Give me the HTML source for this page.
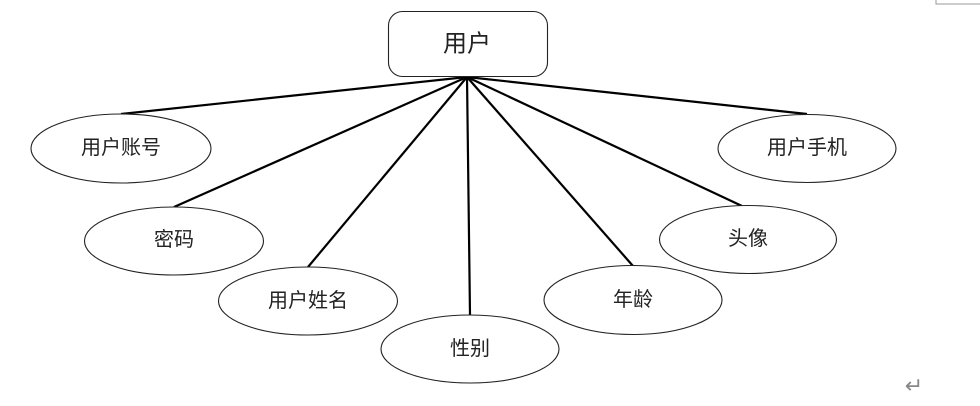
<!DOCTYPE html>
<html><head><meta charset="utf-8"><style>
body{margin:0;background:#fff;}
svg text{font-family:"Liberation Sans","Noto Sans CJK SC",sans-serif;fill:#222;}
</style></head><body>
<svg width="980" height="401" viewBox="0 0 980 401" xmlns="http://www.w3.org/2000/svg">
<path d="M936 0 V4 H980" fill="none" stroke="#999" stroke-width="1"/>
<g stroke="#000" stroke-width="2.2" fill="none">
<line x1="467" y1="77" x2="121" y2="114"/>
<line x1="467" y1="77" x2="174" y2="207"/>
<line x1="467" y1="77" x2="308" y2="267"/>
<line x1="467" y1="77" x2="470" y2="315"/>
<line x1="467" y1="77" x2="633" y2="266"/>
<line x1="467" y1="77" x2="742" y2="206"/>
<line x1="467" y1="77" x2="807" y2="114"/>
</g>
<g stroke="#222" stroke-width="1.1" fill="#fff">
<rect x="388.5" y="11.5" width="159" height="65" rx="14"/>
<ellipse cx="121" cy="148.5" rx="90" ry="34.5"/>
<ellipse cx="174" cy="241" rx="89.5" ry="34"/>
<ellipse cx="308" cy="301" rx="89.5" ry="34"/>
<ellipse cx="470" cy="349" rx="89" ry="34"/>
<ellipse cx="633" cy="300" rx="89" ry="34.5"/>
<ellipse cx="748" cy="239.5" rx="88.5" ry="34"/>
<ellipse cx="807" cy="148.5" rx="89" ry="34"/>
</g>
<g font-size="20" text-anchor="middle" dominant-baseline="central">
<text x="467" y="44" font-size="24">用户</text>
<text x="121" y="148">用户账号</text>
<text x="174" y="240">密码</text>
<text x="308" y="301">用户姓名</text>
<text x="470" y="349">性别</text>
<text x="633" y="300">年龄</text>
<text x="748" y="239">头像</text>
<text x="807" y="148">用户手机</text>
</g>
<text x="914" y="393" font-size="22" text-anchor="middle" style="fill:#888">↵</text>
</svg>
</body></html>
